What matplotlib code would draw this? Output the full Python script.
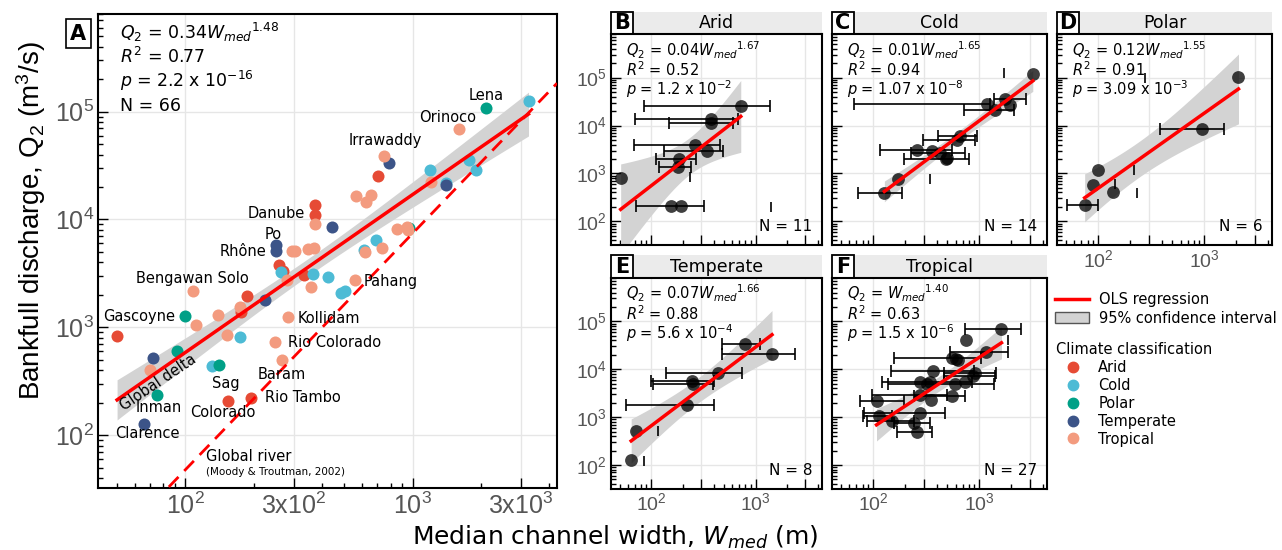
import numpy as np
import matplotlib
matplotlib.use("Agg")
import matplotlib.pyplot as plt
from matplotlib.patches import Rectangle, Patch
from matplotlib.lines import Line2D
from matplotlib.ticker import FixedLocator, FixedFormatter, NullFormatter

nan = np.nan

climates = ["Arid", "Cold", "Polar", "Temperate", "Tropical"]
climate_colors = ["#E64B35", "#4DBBD5", "#00A087", "#3C5488", "#F39B7F"]

# panel A: median channel width (m) and bankfull discharge (m3/s) by climate
arid_w = [705, 371, 371, 258, 270, 333, 186, 176, 50, 154, 194]
arid_q = [25400, 13500, 11000, 3800, 3300, 3030, 1940, 1380, 837, 207, 220]
cold_w = [3240, 1197, 1770, 1897, 1409, 689, 611, 264, 364, 423, 486, 503, 174, 131]
cold_q = [126000, 28700, 35700, 28800, 21900, 6400, 5160, 3230, 3120, 2900, 2080, 2150, 807, 442]
polar_w = [2100, 966, 100, 91.5, 140, 75]
polar_q = [107000, 8370, 1280, 600, 449, 238]
temperate_w = [789, 1400, 441, 250, 250, 225, 72, 65.8]
temperate_q = [33500, 21000, 8510, 5830, 5130, 1780, 516, 128]
tropical_w = [1600, 750, 1210, 561, 658, 621, 371, 853, 944, 955, 294, 304, 346, 367,
              617, 736, 279, 357, 557, 108, 173, 139, 111, 284, 153, 248, 266, 70]
tropical_q = [69700, 39000, 22300, 16600, 16700, 14400, 9130, 8140, 8600, 8030, 5060, 5130, 5360, 5440,
              4990, 5430, 2770, 2340, 2720, 2150, 1530, 1300, 1050, 1240, 855, 727, 502, 405]

# Moody & Troutman (2002) global river relation, as drawn (log Q = exp*log W + log coef)
river_coef = 10 ** -2.70
river_exp = 2.19

# panels B-F: width, discharge, width range (lo, hi) and lone caps
b_w = [721, 378, 378, 262, 339, 185, 182, 51, 155, 195]
b_q = [25500, 13600, 11100, 3840, 2960, 2010, 1370, 820, 209, 209]
b_lo = [85, 70, 149, 68, 132, 110, 120, nan, nan, 71]
b_hi = [1370, 684, 606, 453, 483, 267, 239, nan, nan, 324]
b_cap_w = [234, 1400]
b_cap_q = [845, 199]

c_w = [3180, 1175, 1733, 1417, 1932, 664, 617, 260, 359, 430, 486, 500, 172, 128]
c_q = [119000, 27600, 35200, 21000, 26700, 6000, 4950, 3060, 2960, 2610, 1980, 2100, 782, 398]
c_lo = [nan, 67, 1365, 713, nan, 406, 294, 117, nan, 228, 194, nan, nan, 72]
c_hi = [nan, 1253, 2760, 2110, nan, 953, 918, 553, nan, 740, 795, nan, nan, 187]
c_cap_w = [1706, 341]
c_cap_q = [123000, 757]

d_w = [2094, 951, 100, 90.5, 139, 75]
d_q = [103000, 8300, 1166, 566, 410, 216]
d_lo = [nan, 385, nan, nan, nan, 50.7]
d_hi = [nan, 1523, nan, nan, nan, 100]
d_cap_w = [216, 144, 235, 277]
d_cap_q = [1166, 594, 398, 97000]

e_w = [787, 1436, 440, 248, 251, 222, 72, 64.3]
e_q = [33500, 21000, 8530, 5810, 4955, 1800, 514, 127]
e_lo = [476, 476, 139, 100, 105, 57.7, nan, nan]
e_hi = [1099, 2388, 747, 403, 395, 396, nan, nan]
e_cap_w = [117, 84.6]
e_cap_q = [514, 123]

f_w = [1615, 745, 1167, 553, 626, 605, 365, 918, 867, 279, 347, 596, 740, 320,
       279, 553, 352, 108, 279, 113, 152, 241, 260]
f_q = [70000, 41200, 23400, 17050, 15700, 16400, 9400, 8280, 7280, 5370, 5530, 4955, 5530, 5000,
       2911, 2820, 2290, 2183, 1205, 1075, 831, 745, 498]
f_lo = [740, nan, 535, 159, nan, nan, 148, 462, 462, 122, nan, 137, nan, nan,
        98, 242, nan, 75, 82, 81, 88, 157, 168]
f_hi = [2466, nan, 1862, 1047, nan, nan, 885, 1448, 1416, 854, nan, 1365, nan, nan,
        497, 740, nan, 195, 480, 151, 242, 347, 359]
f_cap_w = [1862]
f_cap_q = [41200]

panel_letters = ["B", "C", "D", "E", "F"]
panel_titles = ["Arid", "Cold", "Polar", "Temperate", "Tropical"]
panel_eqs = [r"$Q_2$ = 0.04$W_{med}$$^{1.67}$", r"$Q_2$ = 0.01$W_{med}$$^{1.65}$",
             r"$Q_2$ = 0.12$W_{med}$$^{1.55}$", r"$Q_2$ = 0.07$W_{med}$$^{1.66}$",
             r"$Q_2$ = $W_{med}$$^{1.40}$"]
panel_r2 = ["0.52", "0.94", "0.91", "0.88", "0.63"]
panel_p = [r"1.2 x 10$^{-2}$", r"1.07 x 10$^{-8}$", r"3.09 x 10$^{-3}$",
           r"5.6 x 10$^{-4}$", r"1.5 x 10$^{-6}$"]
panel_n = [11, 14, 6, 8, 27]

# river name labels in panel A (text anchor positions)
a_labels = [("Lena", 2113, 1.41e5), ("Orinoco", 1429, 8.87e4), ("Irrawaddy", 757, 5.38e4),
            ("Danube", 251, 11300), ("Po", 244, 7330), ("Rhône", 180, 5060),
            ("Bengawan Solo", 107, 2806), ("Gascoyne", 62.5, 1248), ("Pahang", 802, 2640),
            ("Kollidam", 430, 1197), ("Rio Colorado", 452, 717), ("Baram", 266, 365),
            ("Sag", 151, 301), ("Rio Tambo", 328, 222), ("Inman", 76, 179.5),
            ("Colorado", 146, 163), ("Clarence", 68, 104)]

XLIM = (10 ** 1.615, 10 ** 3.636)
YLIM = (10 ** 1.51, 10 ** 5.905)
GRID = "#e6e6e6"
TICKCOL = "#555555"
BAND = "#d3d3d3"

T975 = {1: 12.706, 2: 4.303, 3: 3.182, 4: 2.776, 5: 2.571, 6: 2.447, 7: 2.365, 8: 2.306,
        9: 2.262, 10: 2.228, 11: 2.201, 12: 2.179, 13: 2.160, 14: 2.145, 15: 2.131,
        16: 2.120, 17: 2.110, 18: 2.101, 19: 2.093, 20: 2.086, 21: 2.080, 22: 2.074,
        23: 2.069, 24: 2.064, 25: 2.060, 26: 2.056, 27: 2.052, 28: 2.048, 29: 2.045, 30: 2.042}


def ols_band(w, q):
    x = np.log10(np.asarray(w, float))
    y = np.log10(np.asarray(q, float))
    n = len(x)
    slope, icpt = np.polyfit(x, y, 1)
    xs = np.linspace(x.min(), x.max(), 100)
    fit = icpt + slope * xs
    s = np.sqrt(np.sum((y - icpt - slope * x) ** 2) / (n - 2))
    se = s * np.sqrt(1.0 / n + (xs - x.mean()) ** 2 / np.sum((x - x.mean()) ** 2))
    t = T975.get(n - 2, 1.997)
    return 10 ** xs, 10 ** fit, 10 ** (fit - t * se), 10 ** (fit + t * se)


def style_axis(ax, big, show_x, show_y):
    ax.set_xscale("log")
    ax.set_yscale("log")
    ax.set_xlim(XLIM)
    ax.set_ylim(YLIM)
    minors = [m * 10 ** e for e in (1, 2, 3) for m in (2, 4, 5, 6, 7, 8, 9)]
    ax.xaxis.set_major_locator(FixedLocator([100, 300, 1000, 3000]))
    ax.xaxis.set_minor_locator(FixedLocator(minors))
    ax.yaxis.set_major_locator(FixedLocator([1e2, 1e3, 1e4, 1e5]))
    ax.yaxis.set_minor_locator(FixedLocator([m * 10 ** e for e in (1, 2, 3, 4, 5) for m in range(2, 10)]))
    if big:
        xl = [r"$\mathdefault{10^2}$", r"$\mathdefault{3x10^2}$", r"$\mathdefault{10^3}$", r"$\mathdefault{3x10^3}$"]
        fs = 18
    else:
        xl = [r"$\mathdefault{10^2}$", "", r"$\mathdefault{10^3}$", ""]
        fs = 14
    yl = [r"$\mathdefault{10^%d}$" % e for e in (2, 3, 4, 5)]
    ax.xaxis.set_major_formatter(FixedFormatter(xl) if show_x else NullFormatter())
    ax.yaxis.set_major_formatter(FixedFormatter(yl) if show_y else NullFormatter())
    ax.xaxis.set_minor_formatter(NullFormatter())
    ax.yaxis.set_minor_formatter(NullFormatter())
    ax.tick_params(which="both", direction="in", width=1, colors="black",
                   labelcolor=TICKCOL, labelsize=fs, pad=3)
    ax.tick_params(which="major", length=7)
    ax.tick_params(which="minor", length=3.5)
    for lab in ax.get_xticklabels() + ax.get_yticklabels():
        lab.set_family("Liberation Sans")
    ax.grid(True, which="major", color=GRID, lw=1)
    ax.set_axisbelow(True)
    for sp in ax.spines.values():
        sp.set_linewidth(1.5)


fig = plt.figure(figsize=(12.82, 5.5), dpi=100)

# ---------------- panel A ----------------
axA = fig.add_axes([98 / 1282, 1 - 488 / 550, 459 / 1282, 474 / 550])
style_axis(axA, True, True, True)
all_w = arid_w + cold_w + polar_w + temperate_w + tropical_w
all_q = arid_q + cold_q + polar_q + temperate_q + tropical_q
xs, fit, lo, hi = ols_band(all_w, all_q)
axA.fill_between(xs, lo, hi, color=BAND, lw=0, zorder=2)
groups = [(arid_w, arid_q), (cold_w, cold_q), (polar_w, polar_q),
          (temperate_w, temperate_q), (tropical_w, tropical_q)]
for (w, q), col in zip(groups, climate_colors):
    axA.scatter(w, q, s=75, color=col, lw=0, zorder=3)
axA.plot(xs, fit, color="red", lw=2.5, zorder=4)
rw = np.array(XLIM)
axA.plot(rw, river_coef * rw ** river_exp, color="red", lw=2, ls=(0, (5, 3)), zorder=4)
axA.set_xlim(XLIM)
axA.set_ylim(YLIM)

for name, x, y in a_labels:
    axA.text(x, y, name, fontsize=10.5, ha="center", va="center", zorder=5)
axA.text(76, 305, "Global delta", fontsize=10.5, rotation=34, ha="center", va="center", zorder=5)
axA.text(122.6, 63, "Global river", fontsize=10.5, ha="left", va="center")
axA.text(122.6, 45.4, "(Moody & Troutman, 2002)", fontsize=7.5, ha="left", va="center")

for txt, yb in [(r"$Q_2$ = 0.34$W_{med}$$^{1.48}$", 0.947), (r"$R^2$ = 0.77", 0.8956),
                (r"$p$ = 2.2 x 10$^{-16}$", 0.845), ("N = 66", 0.795)]:
    axA.text(0.048, yb, txt, transform=axA.transAxes, fontsize=12.5, va="baseline")
axA.text(-0.043, 0.9585, "A", transform=axA.transAxes, fontsize=15, fontweight="bold",
         ha="center", va="center",
         bbox=dict(boxstyle="square,pad=0.22", fc="white", ec="black", lw=1.2))

# ---------------- panels B-F ----------------
rects = [(611, 34.3, 211), (832, 34.3, 215), (1057, 34.3, 215),
         (611, 278, 211), (832, 278, 215)]
panel_data = [(b_w, b_q, b_lo, b_hi, b_cap_w, b_cap_q),
              (c_w, c_q, c_lo, c_hi, c_cap_w, c_cap_q),
              (d_w, d_q, d_lo, d_hi, d_cap_w, d_cap_q),
              (e_w, e_q, e_lo, e_hi, e_cap_w, e_cap_q),
              (f_w, f_q, f_lo, f_hi, f_cap_w, f_cap_q)]
show_x = [False, False, True, True, True]
show_y = [True, False, False, True, False]
H = 210.5
for i, ((left, top, width), (w, q, wlo, whi, cw, cq)) in enumerate(zip(rects, panel_data)):
    ax = fig.add_axes([left / 1282, 1 - (top + H) / 550, width / 1282, H / 550])
    style_axis(ax, False, show_x[i], show_y[i])
    w = np.asarray(w, float)
    q = np.asarray(q, float)
    wlo = np.asarray(wlo, float)
    whi = np.asarray(whi, float)
    xs, fit, lo, hi = ols_band(w, q)
    ax.fill_between(xs, lo, hi, color=BAND, lw=0, zorder=2)
    has = np.isfinite(wlo)
    ax.errorbar(w[has], q[has], xerr=[w[has] - wlo[has], whi[has] - w[has]], fmt="none",
                ecolor="black", elinewidth=1.2, capsize=4.5, capthick=1.2, zorder=3)
    ax.scatter(cw, cq, marker="|", s=50, color="black", lw=1.2, zorder=3)
    ax.scatter(w, q, s=85, color="black", alpha=0.75, lw=0, zorder=4)
    ax.plot(xs, fit, color="red", lw=2.5, zorder=5)
    ax.set_xlim(XLIM)
    ax.set_ylim(YLIM)

    sh = 22.6 / H
    ax.add_patch(Rectangle((0, 1), 1, sh, transform=ax.transAxes, fc="#ebebeb", ec="none",
                           clip_on=False))
    lw_box = 22 / width
    ax.add_patch(Rectangle((0, 1), lw_box, sh, transform=ax.transAxes, fc="white", ec="black",
                           lw=1.3, clip_on=False))
    ax.text(lw_box / 2, 1 + sh / 2, panel_letters[i], transform=ax.transAxes, fontsize=15,
            fontweight="bold", ha="center", va="center")
    ax.text(0.5, 1 + sh / 2, panel_titles[i], transform=ax.transAxes, fontsize=12.5,
            ha="center", va="center")

    for txt, yb in [(panel_eqs[i], 0.897), (r"$R^2$ = " + panel_r2[i], 0.802),
                    (r"$p$ = " + panel_p[i], 0.71)]:
        ax.text(0.07, yb, txt, transform=ax.transAxes, fontsize=10.5, va="baseline")
    ax.text(0.955, 0.087, "N = %d" % panel_n[i], transform=ax.transAxes, fontsize=11,
            ha="right", va="center")

# ---------------- axis labels ----------------
fig.text(615 / 1282, 1 - 537 / 550, r"Median channel width, $W_{med}$ (m)", fontsize=18,
         ha="center", va="center")
fig.text(31 / 1282, 1 - 221 / 550, r"Bankfull discharge, $\mathdefault{Q_2}$ (m$\mathdefault{^3}$/s)",
         fontsize=20, family="Liberation Sans", rotation=90, ha="center", va="center")

# ---------------- legends ----------------
fs_leg = 10.5
fig.legend(handles=[Line2D([], [], color="red", lw=2.5),
                    Patch(fc=BAND, ec="#555555", lw=1)],
           labels=["OLS regression", "95% confidence interval"],
           loc="upper left", bbox_to_anchor=(1055 / 1282, 1 - 292 / 550),
           frameon=False, fontsize=fs_leg, handlelength=2.3, handletextpad=0.7,
           borderaxespad=0, borderpad=0, labelspacing=0.25)
fig.legend(handles=[Line2D([], [], marker="o", ls="", color=c, markersize=7.5)
                    for c in climate_colors],
           labels=climates, title="Climate classification", title_fontsize=fs_leg,
           alignment="left", loc="upper left", bbox_to_anchor=(1056 / 1282, 1 - 342 / 550),
           frameon=False, fontsize=fs_leg, handlelength=2.3, handletextpad=0.6,
           borderaxespad=0, borderpad=0, labelspacing=0.2)

fig.savefig("out.png", dpi=100)
